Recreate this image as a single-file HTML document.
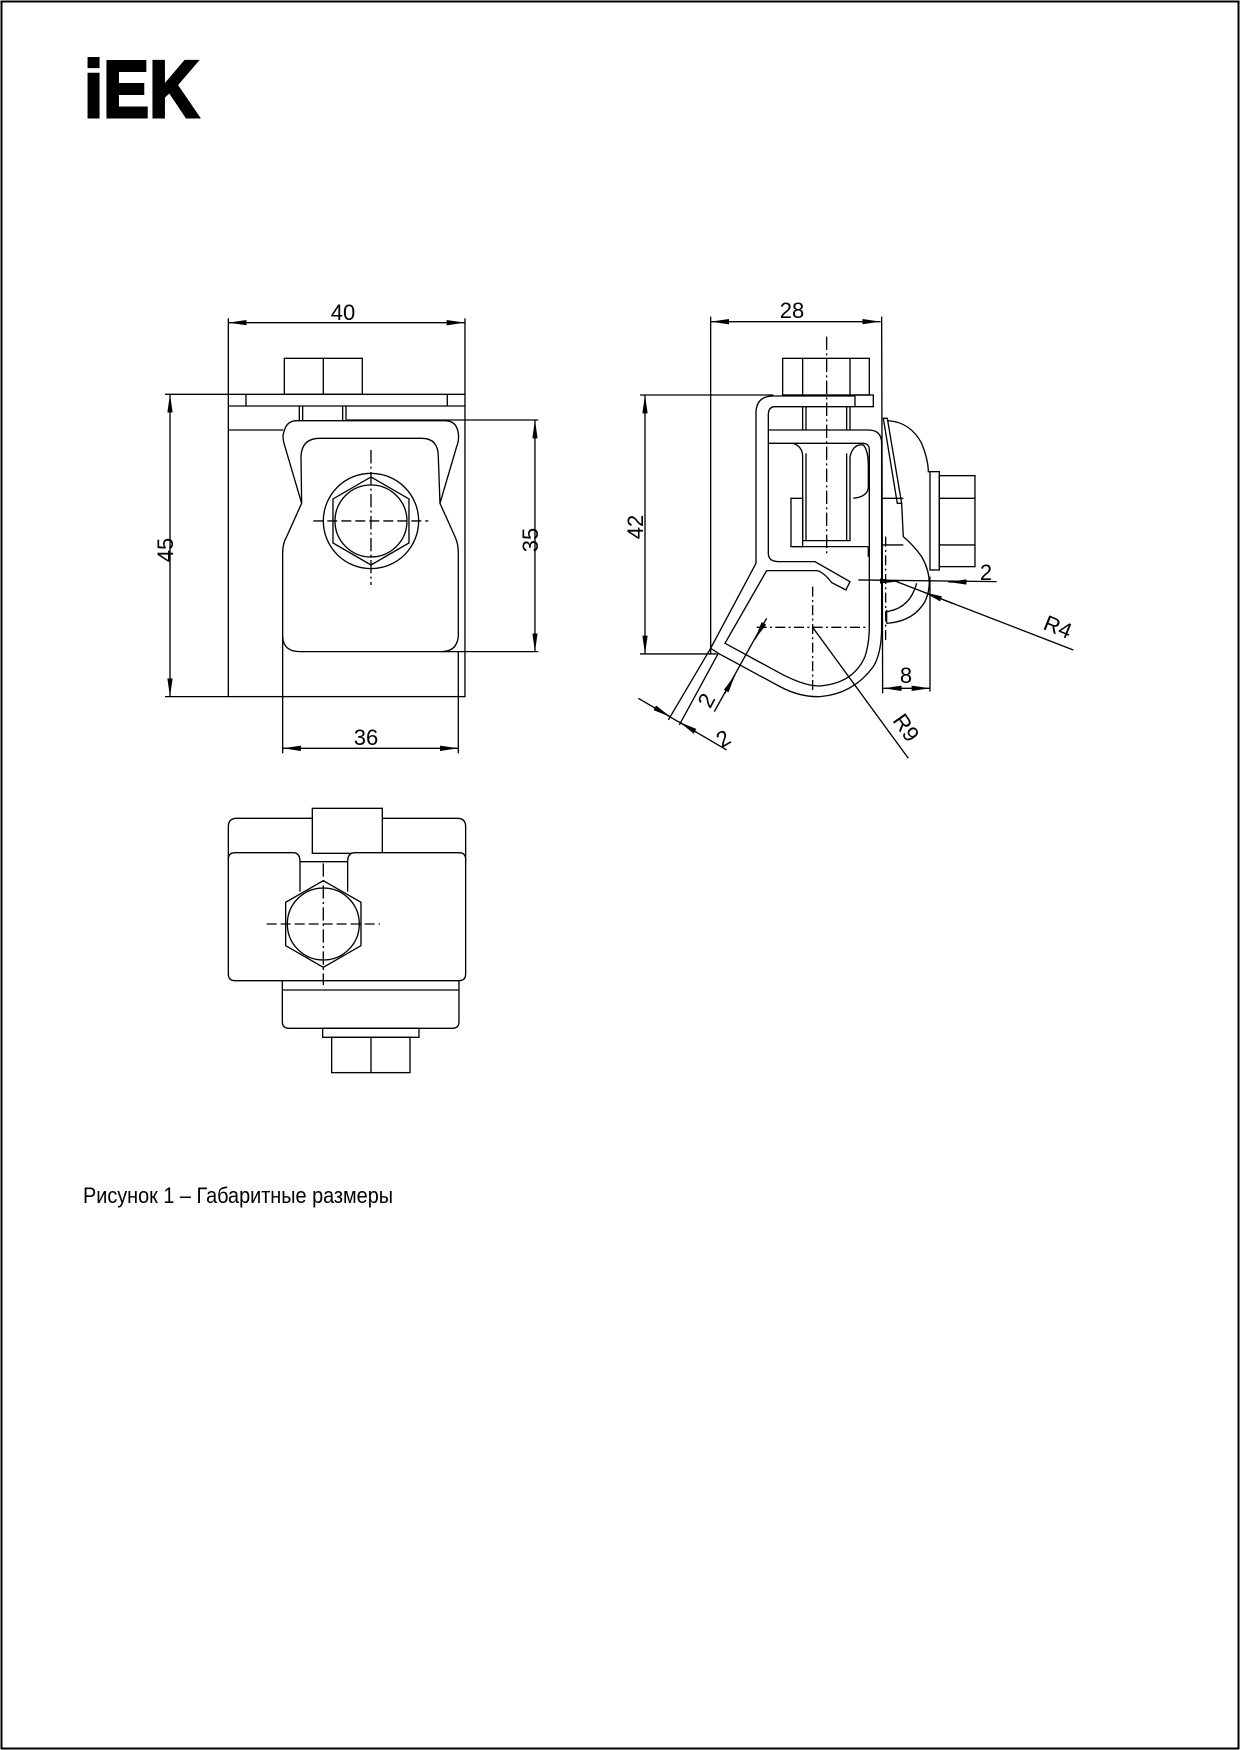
<!DOCTYPE html>
<html><head><meta charset="utf-8"><style>
html,body{margin:0;padding:0;background:#fff}
svg{display:block}
text{font-family:"Liberation Sans","DejaVu Sans",sans-serif;fill:#000}
</style></head><body>
<svg width="1240" height="1750" viewBox="0 0 1240 1750" xmlns="http://www.w3.org/2000/svg">
<defs>
<marker id="a" viewBox="0 0 55 16" refX="55" refY="8" markerWidth="55" markerHeight="16" orient="auto-start-reverse" markerUnits="userSpaceOnUse"><path d="M0,0 L55,8 L0,16z" fill="#000"/></marker>
</defs>
<rect x="1.5" y="1.5" width="1237" height="1747" fill="none" stroke="#000" stroke-width="2"/>
<text x="84" y="117" font-size="81" font-weight="bold" stroke="#000" stroke-width="3" textLength="115" lengthAdjust="spacingAndGlyphs">iEK</text>
<text x="83" y="1203" font-size="22" textLength="310" lengthAdjust="spacingAndGlyphs">Рисунок 1 – Габаритные размеры</text>

<!-- Front view -->
<g transform="translate(140,290) scale(0.3333)" fill="none" stroke="#000" stroke-width="4">
<line x1="265" y1="98" x2="975" y2="98" marker-start="url(#a)" marker-end="url(#a)"/>
<line x1="265" y1="85" x2="265" y2="313"/><line x1="975" y1="85" x2="975" y2="313"/>
<rect x="433" y="205" width="234" height="108"/><line x1="550" y1="205" x2="550" y2="313"/>
<rect x="265" y="313" width="710" height="907"/>
<line x1="265" y1="348" x2="975" y2="348"/>
<line x1="318" y1="313" x2="318" y2="348"/><line x1="922" y1="313" x2="922" y2="348"/>
<line x1="265" y1="420" x2="430" y2="420"/>
<line x1="478" y1="348" x2="478" y2="390"/><line x1="488" y1="348" x2="488" y2="390"/>
<line x1="608" y1="348" x2="608" y2="390"/><line x1="618" y1="348" x2="618" y2="390"/>
<line x1="620" y1="390" x2="1195" y2="390"/><line x1="905" y1="1085" x2="1195" y2="1085"/>
<path d="M470,392 L915,392 Q950,392 955,430 Q958,450 950,470 L900,640 L945,740 Q955,760 955,790 L955,1040 Q950,1085 905,1085 L480,1085 Q430,1085 428,1040 L428,790 Q428,760 440,740 L485,640 L435,470 Q425,440 432,425 Q440,392 470,392 Z" fill="#fff"/>
<path d="M485,640 L483,500 Q485,445 540,445 L845,445 Q895,445 895,500 L900,640"/>
<circle cx="693" cy="693" r="143"/>
<polygon points="693,561 807,627 807,759 693,825 579,759 579,627"/>
<circle cx="693" cy="693" r="108"/>
<line x1="520" y1="693" x2="865" y2="693" stroke-dasharray="30,12"/>
<line x1="693" y1="480" x2="693" y2="885" stroke-dasharray="40,10,6,10"/>
<line x1="90" y1="313" x2="90" y2="1220" marker-start="url(#a)" marker-end="url(#a)"/>
<line x1="75" y1="313" x2="265" y2="313"/><line x1="75" y1="1220" x2="265" y2="1220"/>
<line x1="1185" y1="390" x2="1185" y2="1085" marker-start="url(#a)" marker-end="url(#a)"/>
<line x1="428" y1="1040" x2="428" y2="1390"/><line x1="955" y1="1085" x2="955" y2="1390"/>
<line x1="428" y1="1375" x2="955" y2="1375" marker-start="url(#a)" marker-end="url(#a)"/>
</g>
<g font-size="22" text-anchor="middle">
<text x="343" y="320">40</text>
<text x="366" y="745">36</text>
<text transform="translate(173,550) rotate(-90)">45</text>
<text transform="translate(538,540) rotate(-90)">35</text>
</g>

<!-- Side view -->
<g transform="translate(620,290) scale(0.3333)" fill="none" stroke="#000" stroke-width="4">
<line x1="272" y1="95" x2="782" y2="95" marker-start="url(#a)" marker-end="url(#a)"/>
<line x1="272" y1="80" x2="272" y2="1092"/><line x1="785" y1="80" x2="788" y2="1210"/>
<line x1="620" y1="140" x2="620" y2="790" stroke-dasharray="40,10,6,10"/>
<rect x="488" y="205" width="260" height="110"/>
<line x1="548" y1="205" x2="548" y2="315"/><line x1="690" y1="205" x2="690" y2="315"/>
<rect x="705" y="315" width="55" height="35"/>
<line x1="75" y1="1092" x2="75" y2="315" marker-start="url(#a)" marker-end="url(#a)"/>
<line x1="60" y1="315" x2="460" y2="315"/><line x1="60" y1="1092" x2="290" y2="1092"/>
<path d="M705,318 L460,318 Q408,318 408,370 L408,820 L272,1075 L295,1090 L480,1190 Q540,1222 600,1220 Q700,1212 760,1130 Q785,1090 785,1010 L785,460 Q785,420 745,420 L445,420"/>
<path d="M705,350 L465,350 Q445,350 445,375 L445,790 Q445,815 475,815 L585,815 L690,875 L678,900 L635,878 Q610,845 590,842 L440,842 L315,1060 L490,1155 Q560,1190 600,1188 Q700,1180 735,1100 Q748,1060 748,1010 L748,480 Q748,460 728,460 L445,460"/>
<line x1="548" y1="350" x2="548" y2="420"/><line x1="558" y1="350" x2="558" y2="420"/>
<line x1="680" y1="350" x2="680" y2="420"/><line x1="690" y1="350" x2="690" y2="420"/>
<path d="M520,460 Q548,470 548,500 L548,752 L690,752 L690,500 Q700,460 730,465 Q745,480 745,530 L745,590 Q745,620 700,625"/>
<line x1="558" y1="490" x2="558" y2="752"/><line x1="680" y1="490" x2="680" y2="752"/>
<rect x="513" y="625" width="35" height="145"/>
<line x1="520" y1="770" x2="745" y2="770"/>
<line x1="745" y1="770" x2="745" y2="800"/>
<polygon points="790,385 802,385 845,640 832,640" fill="#fff"/>
<path d="M802,392 Q870,395 905,460 Q925,510 925,545 L930,545"/>
<line x1="785" y1="625" x2="850" y2="625"/><line x1="785" y1="765" x2="850" y2="765"/>
<path d="M845,640 L850,740 Q880,765 905,800 Q945,870 915,935 Q880,995 800,1000"/>
<path d="M800,965 Q870,955 890,880"/>
<line x1="800" y1="960" x2="800" y2="1000"/>
<rect x="930" y="545" width="28" height="295"/>
<rect x="958" y="557" width="107" height="273"/>
<line x1="958" y1="625" x2="1065" y2="625"/><line x1="958" y1="765" x2="1065" y2="765"/>
<line x1="797" y1="740" x2="797" y2="1060" stroke-dasharray="30,10,6,10"/>
<line x1="715" y1="870" x2="1130" y2="875"/>
<line x1="780" y1="873" x2="835" y2="874" marker-end="url(#a)"/>
<line x1="1030" y1="876" x2="985" y2="876" marker-end="url(#a)"/>
<line x1="830" y1="875" x2="1360" y2="1080"/>
<line x1="1000" y1="941" x2="912" y2="907" marker-end="url(#a)"/>
<line x1="930" y1="860" x2="930" y2="1205"/>
<line x1="790" y1="1195" x2="930" y2="1195" marker-start="url(#a)" marker-end="url(#a)"/>
<line x1="410" y1="1012" x2="745" y2="1012" stroke-dasharray="30,10,6,10"/>
<line x1="578" y1="890" x2="578" y2="1200" stroke-dasharray="30,10,6,10"/>
<line x1="578" y1="1012" x2="865" y2="1405"/>
<line x1="272" y1="1075" x2="145" y2="1290"/>
<line x1="295" y1="1090" x2="178" y2="1305"/>
<line x1="55" y1="1225" x2="320" y2="1380"/>
<line x1="100" y1="1251" x2="152" y2="1281" marker-end="url(#a)"/>
<line x1="230" y1="1327" x2="178" y2="1296" marker-end="url(#a)"/>
<line x1="283" y1="1265" x2="430" y2="1000"/>
<line x1="315" y1="1210" x2="345" y2="1155" marker-end="url(#a)"/>
<line x1="440" y1="985" x2="405" y2="1048" marker-end="url(#a)"/>
</g>
<g font-size="22" text-anchor="middle">
<text x="792" y="318">28</text>
<text transform="translate(643,527) rotate(-90)">42</text>
<text x="986" y="580">2</text>
<text x="906" y="683">8</text>
<text transform="translate(1055,634) rotate(22)">R4</text>
<text transform="translate(900,732) rotate(55)">R9</text>
<text transform="translate(713,704) rotate(-62)">2</text>
<text transform="translate(727,745) rotate(-30)">2</text>
</g>

<!-- Top view -->
<g transform="translate(200,790) scale(0.3333)" fill="none" stroke="#000" stroke-width="4">
<path d="M85,215 L85,110 Q85,85 110,85 L772,85 Q797,85 797,110 L797,215"/>
<rect x="337" y="55" width="210" height="135" fill="#fff"/>
<path d="M105,188 L280,188 Q300,188 300,215 L443,215 Q443,188 465,188 L777,188 Q797,188 797,208 L797,552 Q797,572 777,572 L105,572 Q85,572 85,552 L85,208 Q85,188 105,188 Z" fill="#fff"/>
<line x1="300" y1="215" x2="300" y2="305"/><line x1="443" y1="215" x2="443" y2="305"/>
<polygon points="370,272 483,337 483,467 370,532 257,467 257,337" fill="#fff"/>
<circle cx="370" cy="402" r="108"/>
<line x1="200" y1="402" x2="540" y2="402" stroke-dasharray="30,12"/>
<line x1="370" y1="220" x2="370" y2="585" stroke-dasharray="40,10,6,10"/>
<path d="M247,572 L247,695 Q247,715 267,715 L757,715 Q777,715 777,695 L777,572"/>
<line x1="247" y1="600" x2="777" y2="600"/>
<rect x="368" y="715" width="289" height="27"/>
<rect x="395" y="742" width="235" height="106"/>
<line x1="513" y1="742" x2="513" y2="848"/>
</g>
</svg>
</body></html>
